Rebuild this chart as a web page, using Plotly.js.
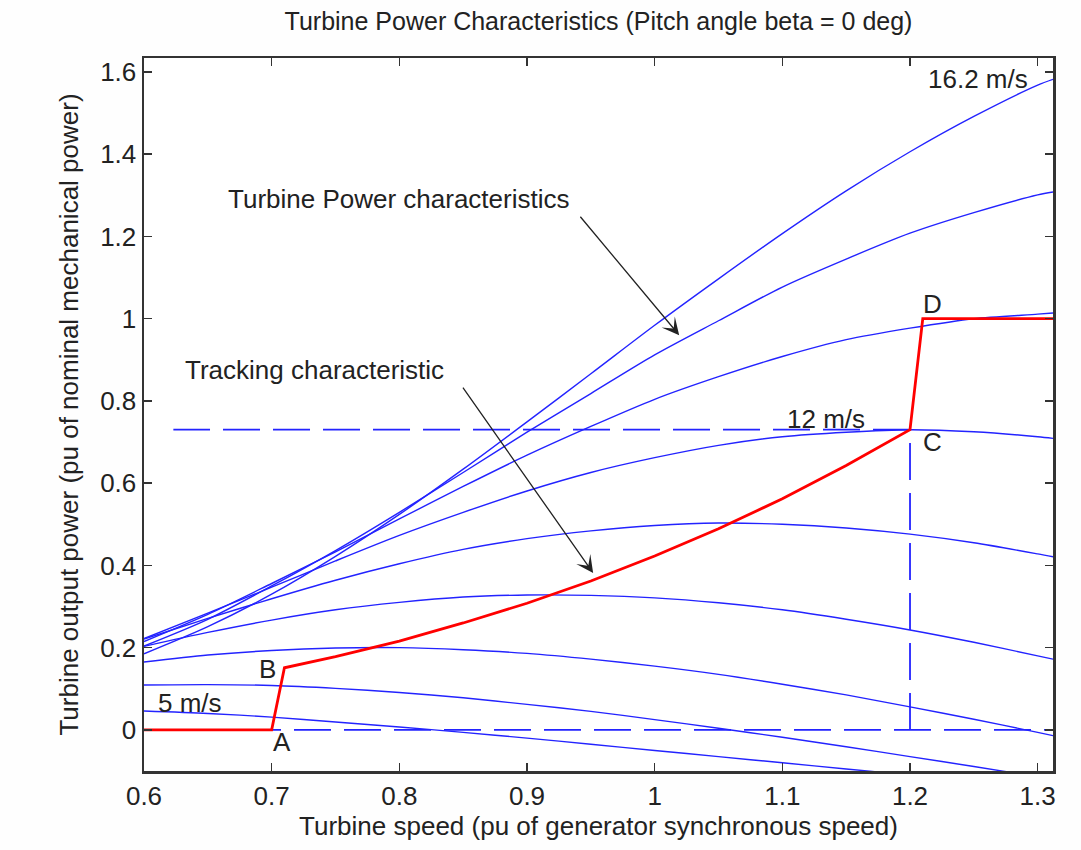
<!DOCTYPE html>
<html><head><meta charset="utf-8">
<script src="https://cdn.plot.ly/plotly-3.0.1.min.js"></script>
<style>html,body{margin:0;padding:0;background:#fff}#chart{width:1081px;height:850px}</style>
</head><body><div id="chart"></div>
<script>
// Turbine speed (pu) sample points
const speed = [0.6, 0.65, 0.7, 0.75, 0.8, 0.85, 0.9, 0.95, 1.0, 1.05, 1.1, 1.15, 1.2, 1.25, 1.3, 1.312];
const windLabels = ['5 m/s', '6.4 m/s', '7.8 m/s', '9.2 m/s', '10.6 m/s', '12 m/s', '13.4 m/s', '14.8 m/s', '16.2 m/s'];
// Turbine output power (pu) for each wind speed
const p5    = [0.046, 0.040, 0.031, 0.019, 0.007, -0.006, -0.020, -0.035, -0.050, -0.065, -0.080, -0.095, -0.110, -0.125, -0.140, -0.143];
const p6_4  = [0.109, 0.110, 0.108, 0.101, 0.091, 0.078, 0.062, 0.045, 0.025, 0.004, -0.018, -0.041, -0.065, -0.089, -0.114, -0.120];
const p7_8  = [0.165, 0.182, 0.193, 0.199, 0.200, 0.195, 0.186, 0.172, 0.155, 0.135, 0.111, 0.085, 0.056, 0.026, -0.006, -0.014];
const p9_2  = [0.203, 0.237, 0.267, 0.292, 0.310, 0.323, 0.328, 0.327, 0.321, 0.309, 0.292, 0.269, 0.243, 0.213, 0.180, 0.172];
const p10_6 = [0.221, 0.271, 0.319, 0.364, 0.404, 0.439, 0.465, 0.484, 0.497, 0.503, 0.500, 0.491, 0.476, 0.455, 0.428, 0.421];
const p12   = [0.222, 0.284, 0.347, 0.411, 0.473, 0.529, 0.581, 0.626, 0.662, 0.692, 0.713, 0.724, 0.730, 0.725, 0.713, 0.709];
const p13_4 = [0.215, 0.281, 0.356, 0.433, 0.513, 0.592, 0.668, 0.738, 0.804, 0.859, 0.908, 0.949, 0.977, 1.000, 1.011, 1.014];
const p14_8 = [0.204, 0.269, 0.350, 0.436, 0.529, 0.626, 0.724, 0.818, 0.912, 0.995, 1.077, 1.145, 1.208, 1.258, 1.301, 1.308];
const p16_2 = [0.185, 0.251, 0.330, 0.422, 0.524, 0.634, 0.749, 0.866, 0.984, 1.097, 1.207, 1.311, 1.406, 1.492, 1.568, 1.582];
// Tracking characteristic A-B-C-D
const trackSpeed = [0.6, 0.7, 0.71, 0.75, 0.8, 0.85, 0.9, 0.95, 1.0, 1.05, 1.1, 1.15, 1.2, 1.21, 1.312];
const trackPower = [0, 0, 0.151, 0.178, 0.216, 0.260, 0.308, 0.362, 0.423, 0.489, 0.562, 0.643, 0.73, 1.0, 1.0];
// Dashed reference lines
const refTopSpeed = [1.2, 0.623];
const refTopPower = [0.73, 0.73];
const refVertSpeed = [1.2, 1.2];
const refVertPower = [0, 0.73];
const refZeroSpeed = [0.6, 1.312];
const refZeroPower = [0, 0];
const xTicks = [0.6, 0.7, 0.8, 0.9, 1.0, 1.1, 1.2, 1.3];
const yTicks = [0, 0.2, 0.4, 0.6, 0.8, 1.0, 1.2, 1.4, 1.6];

const powerSeries = [p5, p6_4, p7_8, p9_2, p10_6, p12, p13_4, p14_8, p16_2];
const BLUE = '#2323ff';
const FONT = 'Liberation Sans, Arial, sans-serif';

const traces = powerSeries.map((p, i) => ({
  x: speed, y: p, name: windLabels[i], type: 'scatter', mode: 'lines',
  line: {color: BLUE, width: 1.4, shape: 'spline', smoothing: 0.8},
  hoverinfo: 'name+x+y'
}));
const dashLine = {color: BLUE, width: 1.8, dash: '37px,13px'};
traces.push({x: refTopSpeed, y: refTopPower, mode: 'lines', line: dashLine, hoverinfo: 'skip'});
traces.push({x: refVertSpeed, y: refVertPower, mode: 'lines', line: dashLine, hoverinfo: 'skip'});
traces.push({x: refZeroSpeed, y: refZeroPower, mode: 'lines', line: dashLine, hoverinfo: 'skip'});
traces.push({x: trackSpeed, y: trackPower, name: 'Tracking characteristic', mode: 'lines',
  line: {color: '#ff0000', width: 2.8}});

const txt = (x, y, t) => ({x: x, y: y, xref: 'x', yref: 'y', text: t, showarrow: false,
  font: {family: FONT, size: 26, color: '#222'}});
const arrow = (x, y, ax, ay) => ({x: x, y: y, ax: ax, ay: ay, xref: 'x', yref: 'y', axref: 'x', ayref: 'y',
  text: '', showarrow: true, arrowhead: 3, arrowsize: 2.2, arrowwidth: 1.3, arrowcolor: '#222'});

const layout = {
  width: 1081, height: 850,
  margin: {l: 143.5, r: 28, t: 58, b: 79},
  paper_bgcolor: '#fefefe', plot_bgcolor: '#ffffff',
  showlegend: false,
  font: {family: FONT, size: 26, color: '#222'},
  title: {text: 'Turbine Power Characteristics (Pitch angle beta = 0 deg)',
    font: {family: FONT, size: 25, color: '#222'}, x: 0.5, xanchor: 'center', xref: 'paper',
    y: 0.975, yanchor: 'middle', yref: 'container'},
  xaxis: {range: [0.6, 1.312], tickvals: xTicks, ticks: 'inside', ticklen: 8, tickwidth: 1.5,
    tickcolor: '#333', showline: true, linecolor: '#333', linewidth: 2.5, mirror: 'ticks',
    showgrid: false, zeroline: false, tickfont: {family: FONT, size: 26, color: '#222'},
    title: {text: 'Turbine speed (pu of generator synchronous speed)', font: {family: FONT, size: 26, color: '#222'}, standoff: 6}},
  yaxis: {range: [-0.1, 1.634], tickvals: yTicks, ticks: 'inside', ticklen: 8, tickwidth: 1.5,
    tickcolor: '#333', showline: true, linecolor: '#333', linewidth: 2.5, mirror: 'ticks',
    showgrid: false, zeroline: false, tickfont: {family: FONT, size: 26, color: '#222'},
    title: {text: 'Turbine output power (pu of nominal mechanical power)', font: {family: FONT, size: 26, color: '#222'}, standoff: 14}},
  annotations: [
    txt(1.253, 1.584, '16.2 m/s'),
    txt(1.1345, 0.755, '12 m/s'),
    txt(0.636, 0.066, '5 m/s'),
    txt(0.708, -0.029, 'A'),
    txt(0.697, 0.148, 'B'),
    txt(1.218, 0.70, 'C'),
    txt(1.218, 1.035, 'D'),
    txt(0.7996, 1.290, 'Turbine Power characteristics'),
    txt(0.7337, 0.875, 'Tracking characteristic'),
    arrow(1.0192, 0.960, 0.9408, 1.2515),
    arrow(0.9518, 0.3815, 0.849, 0.836)
  ]
};
Plotly.newPlot('chart', traces, layout, {displayModeBar: false, staticPlot: true});
</script></body></html>
